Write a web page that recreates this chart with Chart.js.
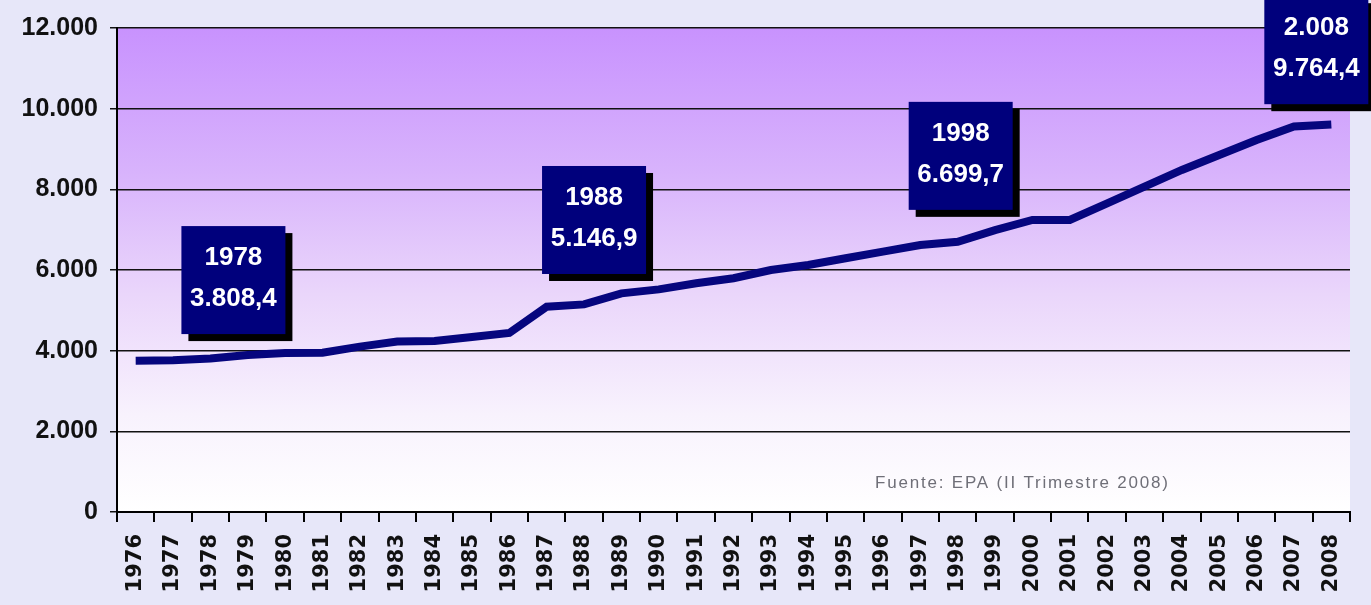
<!DOCTYPE html>
<html>
<head>
<meta charset="utf-8">
<script src="https://cdn.jsdelivr.net/npm/chart.js@4/dist/chart.umd.min.js"></script>
<style>
    body { margin: 0; background: #e7e7f9; }
    #wrap { width: 1371px; height: 605px; }
</style>
</head>
<body>
<div id="wrap"><canvas id="epaChart" width="1371" height="605"></canvas></div>
<script>
const years = ['1976', '1977', '1978', '1979', '1980', '1981', '1982', '1983', '1984', '1985', '1986',
    '1987', '1988', '1989', '1990', '1991', '1992', '1993', '1994', '1995', '1996', '1997', '1998',
    '1999', '2000', '2001', '2002', '2003', '2004', '2005', '2006', '2007', '2008'];
const ocupados = [3750, 3760, 3808, 3890, 3940, 3950, 4100, 4225, 4240, 4340, 4440,
    5090, 5147, 5420, 5520, 5670, 5795, 6000, 6125, 6290, 6455, 6620, 6700,
    6990, 7240, 7240, 7650, 8065, 8480, 8850, 9225, 9560, 9610];
const yTicks = [0, 2000, 4000, 6000, 8000, 10000, 12000];

// highlighted years and the text shown in their boxes
const calloutYears = ['1978', '1988', '1998', '2008'];
const calloutTitles = ['1978', '1988', '1998', '2.008'];
const calloutValues = ['3.808,4', '5.146,9', '6.699,7', '9.764,4'];
const sourceNote = 'Fuente: EPA (II Trimestre 2008)';

function formatMiles(v) {
    return v.toString().replace(/\B(?=(\d{3})+(?!\d))/g, '.');
}

// box placement relative to the year's point (pixels) and box centre in data units
const calloutStyle = {
    dx: [23, 10, 3, -15],
    yCenter: [5750, 7240, 8830, 11450],
    width: 104,
    height: 108,
    shadow: 7
};

const plotBackground = {
    id: 'plotBackground',
    beforeDraw(chart) {
        const { ctx, chartArea: a } = chart;
        const g = ctx.createLinearGradient(0, a.top, 0, a.bottom);
        g.addColorStop(0, '#c892fe');
        g.addColorStop(0.3, '#d8b3fc');
        g.addColorStop(0.55, '#ead6fb');
        g.addColorStop(0.8, '#f8f2fd');
        g.addColorStop(1, '#ffffff');
        ctx.save();
        ctx.fillStyle = g;
        ctx.fillRect(a.left, a.top, a.right - a.left, a.bottom - a.top);
        ctx.restore();
    }
};

const callouts = {
    id: 'callouts',
    afterDatasetsDraw(chart) {
        const { ctx, chartArea: a } = chart;
        const xs = chart.scales.x;
        const ys = chart.scales.y;
        const s = calloutStyle;
        ctx.save();

        // source note
        ctx.font = '17px "Liberation Sans", Arial, sans-serif';
        ctx.letterSpacing = '1.8px';
        ctx.fillStyle = '#6f6f78';
        ctx.textAlign = 'left';
        ctx.textBaseline = 'middle';
        ctx.fillText(sourceNote, a.right - 475, a.bottom - 29);
        ctx.letterSpacing = '0px';

        calloutYears.forEach(function(year, i) {
            const idx = years.indexOf(year);
            const cx = xs.getPixelForValue(idx) + s.dx[i];
            const cy = ys.getPixelForValue(s.yCenter[i]);
            const left = cx - s.width / 2;
            const top = cy - s.height / 2;

            ctx.fillStyle = '#000000';
            ctx.fillRect(left + s.shadow, top + s.shadow, s.width, s.height);
            ctx.fillStyle = '#00007c';
            ctx.fillRect(left, top, s.width, s.height);

            ctx.fillStyle = '#ffffff';
            ctx.font = 'bold 26px "Liberation Sans", Arial, sans-serif';
            ctx.textAlign = 'center';
            ctx.textBaseline = 'middle';
            ctx.fillText(calloutTitles[i], cx, cy - 22);
            ctx.fillText(calloutValues[i], cx, cy + 19);
        });
        ctx.restore();
    }
};

const ctx = document.getElementById('epaChart').getContext('2d');
const epaChart = new Chart(ctx, {
    type: 'line',
    data: {
        labels: years,
        datasets: [{
            data: ocupados,
            borderColor: '#06067e',
            borderWidth: 8,
            pointRadius: 0,
            tension: 0,
            fill: false
        }]
    },
    options: {
        responsive: false,
        animation: false,
        layout: {
            padding: { left: 0, right: 21, top: 28, bottom: 0 }
        },
        plugins: {
            legend: { display: false },
            tooltip: { enabled: false }
        },
        scales: {
            x: {
                offset: true,
                grid: {
                    offset: true,
                    drawOnChartArea: false,
                    color: '#000000',
                    lineWidth: 2,
                    tickLength: 10
                },
                border: { color: '#000000', width: 2 },
                ticks: {
                    minRotation: 90,
                    maxRotation: 90,
                    autoSkip: false,
                    padding: 12,
                    color: '#111111',
                    font: { family: '"DejaVu Sans", sans-serif', weight: 'bold', size: 21 }
                },
                afterFit: function(scale) { scale.height = 93; }
            },
            y: {
                min: 0,
                max: 12000,
                afterBuildTicks: function(scale) {
                    scale.ticks = yTicks.map(function(v) { return { value: v }; });
                },
                grid: {
                    color: '#111111',
                    lineWidth: 1.5,
                    tickLength: 7
                },
                border: { color: '#000000', width: 2 },
                ticks: {
                    padding: 12,
                    color: '#111111',
                    font: { family: '"Liberation Sans", Arial, sans-serif', weight: 'bold', size: 25 },
                    callback: function(v) { return formatMiles(v); }
                },
                afterFit: function(scale) { scale.width = 117; }
            }
        }
    },
    plugins: [plotBackground, callouts]
});
</script>
</body>
</html>
